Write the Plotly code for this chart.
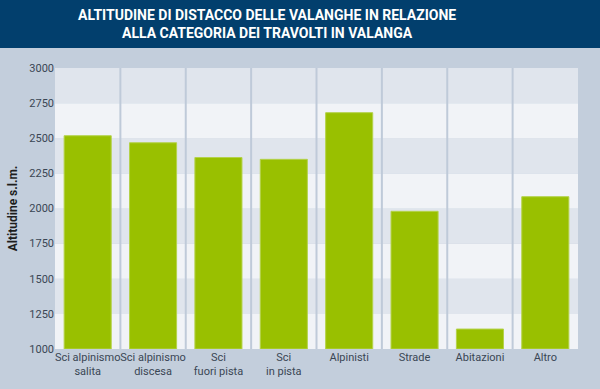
import plotly.graph_objects as go

title_lines = ["ALTITUDINE DI DISTACCO DELLE VALANGHE IN RELAZIONE",
               "ALLA CATEGORIA DEI TRAVOLTI IN VALANGA"]
categories = ["Sci alpinismo<br>salita", "Sci alpinismo<br>discesa", "Sci<br>fuori pista",
              "Sci<br>in pista", "Alpinisti", "Strade", "Abitazioni", "Altro"]
values = [2518, 2468, 2363, 2350, 2682, 1980, 1142, 2084]
y_ticks = [1000, 1250, 1500, 1750, 2000, 2250, 2500, 2750, 3000]
y_title = "Altitudine s.l.m."

BG = "#C3CEDC"
HEADER = "#023F6D"
DARK_BAND = "#E0E5ED"
LIGHT_BAND = "#F1F3F7"
GREEN = "#99C000"
FONT = "Roboto"

W, H = 600, 389
ml, mr, mt, mb = 55, 22, 68, 40
pw, ph = W - ml - mr, H - mt - mb

fig = go.Figure()
fig.add_trace(go.Bar(
    x=list(range(len(categories))), y=[v - y_ticks[0] for v in values],
    base=y_ticks[0], width=0.72,
    marker=dict(color=GREEN, line=dict(color="#B4D24A", width=1)),
    hoverinfo="skip",
))

shapes = []
# header
shapes.append(dict(type="rect", xref="paper", yref="paper", x0=-ml / pw - 0.05, x1=1 + mr / pw + 0.05,
                   y0=1 + (mt - 48) / ph, y1=1 + mt / ph + 0.05,
                   fillcolor=HEADER, line=dict(width=0), layer="below"))
# bands
for i in range(len(y_ticks) - 1):
    shapes.append(dict(type="rect", xref="paper", yref="y", x0=0, x1=1,
                       y0=y_ticks[i], y1=y_ticks[i + 1],
                       fillcolor=LIGHT_BAND if i % 2 == 0 else DARK_BAND,
                       line=dict(width=0), layer="below"))
# separators
for i in range(1, len(categories)):
    shapes.append(dict(type="line", xref="x", yref="paper", x0=i - 0.5, x1=i - 0.5,
                       y0=0, y1=1, line=dict(color="#BFCAD9", width=2), layer="below"))

fig.update_layout(
    width=W, height=H, margin=dict(l=ml, r=mr, t=mt, b=mb),
    paper_bgcolor=BG, plot_bgcolor=BG, showlegend=False,
    shapes=shapes,
    font=dict(family=FONT, color="#3A4654", size=11),
    xaxis=dict(range=[-0.5, len(categories) - 0.5], tickmode="array",
               tickvals=list(range(len(categories))), ticktext=categories,
               showgrid=False, zeroline=False, showline=False, ticks="", tickangle=0,
               automargin=False,
               tickfont=dict(size=11, color="#3A4654"), fixedrange=True),
    yaxis=dict(range=[y_ticks[0], y_ticks[-1]], tickvals=y_ticks, showgrid=False,
               zeroline=False, showline=False, ticks="", automargin=False,
               tickfont=dict(size=11, color="#3A4654"),
               title=dict(text="<b>" + y_title + "</b>", font=dict(size=12, color="#1E1E1E"), standoff=9),
               fixedrange=True),
    annotations=[dict(text="<b>" + "<br>".join(title_lines) + "</b>", xref="paper", yref="paper",
                      x=(267 - ml) / pw, y=1 + (mt - 24) / ph, xanchor="center", yanchor="middle",
                      showarrow=False, font=dict(size=14, color="white", family=FONT))],
)

fig.write_html("out.html", config={"displayModeBar": False},
               post_script="document.body.style.margin='0';document.body.style.padding='0';")
